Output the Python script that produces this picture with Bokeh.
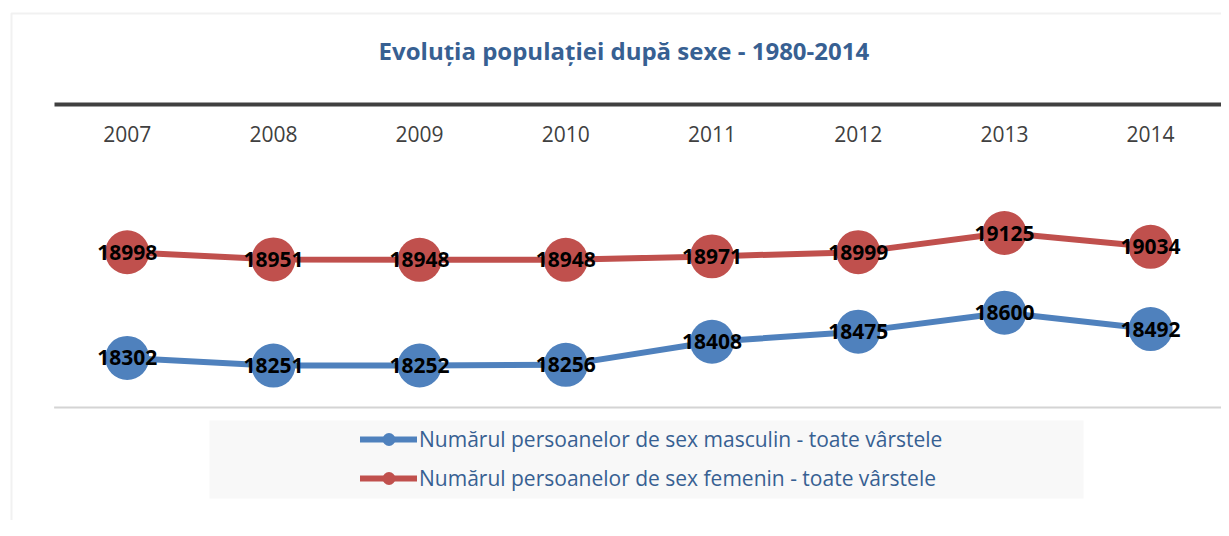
from bokeh.plotting import figure
from bokeh.models import (Range1d, Legend, LegendItem, BoxAnnotation, Label,
                          FixedTicker)
from bokeh.core.properties import value
from bokeh.embed import file_html
from bokeh.resources import INLINE

years = ["2007", "2008", "2009", "2010", "2011", "2012", "2013", "2014"]
male = [18302, 18251, 18252, 18256, 18408, 18475, 18600, 18492]
female = [18998, 18951, 18948, 18948, 18971, 18999, 19125, 19034]
male_label = "Numărul persoanelor de sex masculin - toate vârstele"
female_label = "Numărul persoanelor de sex femenin - toate vârstele"
title_text = "Evoluția populației după sexe - 1980-2014"

BLUE = "#4f81bd"
RED = "#c0504d"
TXT_BLUE = "#376092"
FONT = "Open Sans"

# layout (pixels)
W, H = 1221, 520
CAT_PX, FIRST_PX = 146.2, 126.7          # category spacing / first centre
PA_TOP_PX, PA_BOT_PX = 104, 407           # plot-area top / bottom
PA_TOP, PA_BOT = 19972, 17975             # plot-area value extent

n = len(years)
xs = list(range(n))
x0 = -FIRST_PX / CAT_PX
x1 = x0 + W / CAT_PX
scale = (PA_BOT_PX - PA_TOP_PX) / (PA_TOP - PA_BOT)
y1 = PA_TOP + PA_TOP_PX / scale
y0 = PA_BOT - (H - PA_BOT_PX) / scale

p = figure(width=W, height=H, x_range=Range1d(x0, x1),
           y_range=Range1d(y0, y1), output_backend="svg",
           toolbar_location=None, min_border=0)
p.outline_line_color = None
p.grid.visible = False
p.yaxis.visible = False

ax = p.xaxis[0]
ax.ticker = FixedTicker(ticks=xs)
ax.major_label_overrides = {i: y for i, y in zip(xs, years)}
ax.fixed_location = PA_TOP
ax.bounds = (-0.5, n - 0.5)
ax.axis_line_width = 4
ax.axis_line_color = "#404040"
ax.major_tick_line_color = None
ax.minor_tick_line_color = None
ax.major_tick_out = 0
ax.major_tick_in = 0
ax.major_label_standoff = 21
ax.major_label_text_font = FONT
ax.major_label_text_font_size = "21px"
ax.major_label_text_color = "#404040"

# outer chart border and legend background
p.add_layout(BoxAnnotation(left=11, right=W + 40, top=13, bottom=H + 40,
                           left_units="canvas", right_units="canvas",
                           top_units="canvas", bottom_units="canvas",
                           fill_alpha=0, line_color="#d0d0d0", line_width=2,
                           level="underlay"))
p.add_layout(BoxAnnotation(left=209, right=1083, top=420, bottom=498,
                           left_units="canvas", right_units="canvas",
                           top_units="canvas", bottom_units="canvas",
                           fill_color="#f8f8f8", fill_alpha=1, line_color=None,
                           level="underlay"))

# plot-area bottom border
p.segment(x0=[-0.5], x1=[n - 0.5], y0=[PA_BOT], y1=[PA_BOT],
          line_color="#d4d4d4", line_width=2)

title = Label(x=(n - 1) / 2, y=PA_TOP + 54 / scale, x_offset=-15,
              text=title_text, text_align="center", text_baseline="middle",
              text_font=FONT, text_font_size="24px", text_font_style="bold",
              text_color=TXT_BLUE)
p.add_layout(title)

lm = p.line(xs, male, line_width=6, color=BLUE, line_cap="round",
            line_join="round")
sm = p.scatter(xs, male, size=44, color=BLUE, line_color=None)
lf = p.line(xs, female, line_width=6, color=RED, line_cap="round",
            line_join="round")
sf = p.scatter(xs, female, size=44, color=RED, line_color=None)

for vals in (male, female):
    p.text(x=xs, y=vals, text=[str(v) for v in vals],
           text_align="center", text_baseline="middle",
           text_font=value(FONT), text_font_style="bold",
           text_font_size="21px", text_color="black")

legend = Legend(items=[LegendItem(label=male_label, renderers=[lm, sm]),
                       LegendItem(label=female_label, renderers=[lf, sf])],
                location=(360, H - 494), orientation="vertical",
                background_fill_alpha=0, border_line_color=None,
                padding=0, margin=0, spacing=7, glyph_width=57,
                glyph_height=32, label_height=32, label_standoff=2,
                label_text_font=FONT, label_text_font_size="21px",
                label_text_color=TXT_BLUE)
p.add_layout(legend, "center")

open("out.html", "w").write(file_html(p, INLINE))
